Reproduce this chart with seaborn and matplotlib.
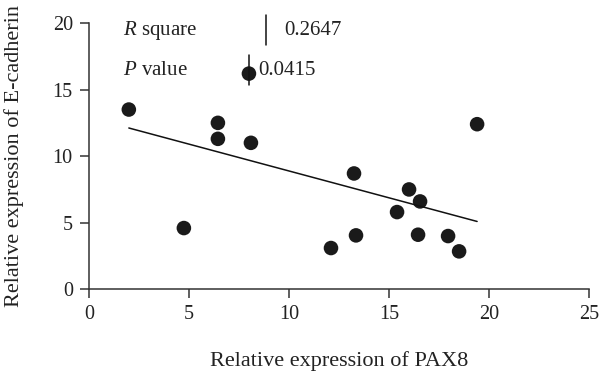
import matplotlib
matplotlib.use("Agg")
import matplotlib.pyplot as plt
import seaborn as sns
import pandas as pd
import numpy as np

pax8 = [2.0, 4.75, 6.45, 6.45, 8.1, 8.0, 13.25, 12.1, 13.35, 15.4, 16.0, 16.55, 16.45, 17.95, 18.5, 19.4]
ecad = [13.5, 4.6, 12.5, 11.3, 11.0, 16.2, 8.7, 3.1, 4.05, 5.8, 7.5, 6.6, 4.1, 4.0, 2.85, 12.4]
x_ticks = [0, 5, 10, 15, 20, 25]
y_ticks = [0, 5, 10, 15, 20]
r_square = "0.2647"
p_value = "0.0415"

df = pd.DataFrame({"PAX8": pax8, "Ecad": ecad})

sns.set_style("ticks")
plt.rcParams["font.family"] = ["Liberation Serif", "DejaVu Serif"]
plt.rcParams["mathtext.fontset"] = "custom"
plt.rcParams["mathtext.it"] = "Liberation Serif:italic"
plt.rcParams["mathtext.rm"] = "Liberation Serif"

fig = plt.figure(figsize=(6, 3.75), dpi=100)
ax = fig.add_axes([0.148, 0.2285, 0.834, 0.7102])

sns.regplot(data=df, x="PAX8", y="Ecad", ax=ax, ci=None, truncate=True,
            scatter_kws=dict(s=110, color="#1a1a1a", edgecolor="none", alpha=1),
            line_kws=dict(color="#111111", lw=1.1))

ax.set_xlim(0, 25)
ax.set_ylim(0, 20)
ax.set_xticks(x_ticks)
ax.set_yticks(y_ticks)
ax.tick_params(direction="out", length=6.5, width=1.1, color="#333333",
               labelsize=14.5, labelcolor="#222222", pad=5)
for s in ["top", "right"]:
    ax.spines[s].set_visible(False)
for s in ["left", "bottom"]:
    ax.spines[s].set_linewidth(1.1)
    ax.spines[s].set_color("#333333")

ax.set_xlabel("Relative expression of PAX8", fontsize=16, color="#222222", labelpad=19)
ax.set_ylabel("Relative expression of E-cadherin", fontsize=16, color="#222222", labelpad=21)

ax.text(0.0675, 0.972, r"$\it{R}$ square", transform=ax.transAxes, fontsize=15,
        va="center", ha="left", color="#222222")
ax.text(0.0675, 0.82, r"$\it{P}$ value", transform=ax.transAxes, fontsize=15,
        va="center", ha="left", color="#222222")
ax.text(0.39, 0.972, r_square, transform=ax.transAxes, fontsize=15,
        va="center", ha="left", color="#222222")
ax.text(0.338, 0.82, p_value, transform=ax.transAxes, fontsize=15,
        va="center", ha="left", color="#222222")
ax.plot([0.354, 0.354], [0.918, 1.03], transform=ax.transAxes, color="#111111",
        lw=1.1, clip_on=False)
ax.plot([0.32, 0.32], [0.766, 0.88], transform=ax.transAxes, color="#111111",
        lw=1.1, clip_on=False)

fig.savefig("out.png", dpi=100)
